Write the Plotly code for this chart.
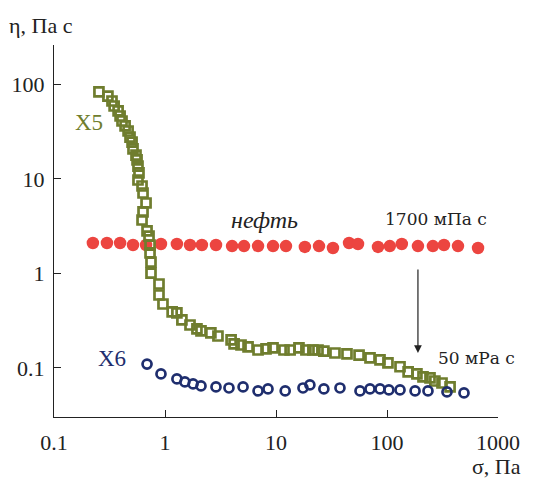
import math
import plotly.graph_objects as go

# ---- data (sigma, Pa ; eta, Pa s) ----
x5_sigma = [0.254, 0.306, 0.333, 0.348, 0.378, 0.394, 0.410, 0.437, 0.465, 0.484, 0.505, 0.515,
            0.548, 0.560, 0.571, 0.583, 0.571, 0.621, 0.634, 0.675, 0.634, 0.621, 0.689, 0.718,
            0.733, 0.733, 0.748, 0.748, 0.883, 0.883, 0.959, 1.16, 1.28, 1.42, 1.68, 1.94, 2.11,
            2.59, 3.00, 3.94, 4.19, 4.84, 5.60, 6.89, 8.13, 9.40, 11.8, 13.4, 16.1, 18.6, 21.5,
            23.9, 27.0, 34.0, 43.6, 56.0, 70.3, 86.5, 102, 131, 155, 186, 211, 244, 270, 313, 370]
x5_eta = [83.4, 75.5, 66.9, 59.2, 52.5, 46.4, 41.1, 36.4, 32.2, 27.8, 24.6, 20.8, 17.9, 15.9,
          13.7, 11.6, 9.75, 8.43, 7.11, 5.57, 4.48, 3.68, 2.82, 2.49, 2.00, 1.65, 1.32, 1.01,
          0.774, 0.592, 0.475, 0.392, 0.382, 0.322, 0.285, 0.259, 0.247, 0.235, 0.218, 0.198,
          0.180, 0.175, 0.167, 0.155, 0.159, 0.163, 0.155, 0.155, 0.163, 0.155, 0.155, 0.155,
          0.151, 0.144, 0.141, 0.137, 0.128, 0.122, 0.113, 0.103, 0.0907, 0.0865, 0.0804,
          0.0784, 0.0728, 0.0693, 0.0630]

oil_sigma = [0.224, 0.300, 0.394, 0.515, 0.675, 0.920, 1.28, 1.68, 2.15, 2.88, 4.02, 5.15, 6.89,
             9.40, 12.3, 18.2, 24.4, 32.6, 45.5, 54.8, 83.0, 106, 136, 190, 259, 326, 436, 661]
oil_eta = [2.10, 2.10, 2.10, 2.00, 2.00, 2.05, 2.05, 2.00, 2.00, 2.00, 1.95, 1.95, 1.95, 1.95,
           1.95, 1.91, 1.95, 1.86, 2.10, 2.05, 1.91, 1.95, 2.05, 1.95, 1.95, 2.00, 1.95, 1.86]

x6_sigma = [0.689, 0.920, 1.28, 1.51, 1.79, 2.11, 2.88, 3.77, 5.05, 6.89, 8.47, 12.1, 17.5, 20.2,
            27.0, 37.7, 57.1, 70.3, 86.5, 104, 131, 179, 234, 347, 494]
x6_eta = [0.110, 0.0865, 0.0765, 0.0711, 0.0677, 0.0645, 0.0630, 0.0614, 0.0630, 0.0571, 0.0600,
          0.0571, 0.0614, 0.0661, 0.0600, 0.0614, 0.0571, 0.0600, 0.0600, 0.0585, 0.0585, 0.0571,
          0.0571, 0.0557, 0.0544]

x_ticks = [0.1, 1, 10, 100, 1000]
x_ticktext = ["0.1", "1", "10", "100", "1000"]
y_ticks = [0.1, 1, 10, 100]
y_ticktext = ["0.1", "1", "10", "100"]

# arrow from 1700 mPa s level down to 50 mPa s level
arrow_sigma = 190
arrow_from = 1.14
arrow_to = 0.144

OLIVE = "#6f7d2e"
RED = "#ec4540"
NAVY = "#1f2e6e"
FONT = "'Liberation Serif', 'Times New Roman', 'DejaVu Serif', serif"
WIDE = "'DejaVu Serif', serif"

W, H = 546, 481
L, R, T, B = 54, 48, 45, 64
pw, ph = W - L - R, H - T - B


def px(xp, yp):
    return (xp - L) / pw, (H - B - yp) / ph


fig = go.Figure()
fig.add_trace(go.Scatter(x=oil_sigma, y=oil_eta, mode="markers",
                         marker=dict(symbol="circle", size=12.5, color=RED, line=dict(width=0))))
fig.add_trace(go.Scatter(x=x5_sigma, y=x5_eta, mode="markers",
                         marker=dict(symbol="square-open", size=9, color=OLIVE, line=dict(width=2.7))))
fig.add_trace(go.Scatter(x=x6_sigma, y=x6_eta, mode="markers",
                         marker=dict(symbol="circle-open", size=9, color=NAVY, line=dict(width=2.7))))

ann = []


def text(s, xp, yp, color="#222", size=21, xanchor="center", italic=False, family=FONT):
    x, y = px(xp, yp)
    ann.append(dict(x=x, y=y, xref="paper", yref="paper", text=s, showarrow=False,
                    xanchor=xanchor, yanchor="middle", borderpad=0,
                    font=dict(family=family, size=size, color=color,
                              style="italic" if italic else "normal")))


text("η, Па с", 8, 25, xanchor="left", size=22)
text("σ, Па", 522, 466, xanchor="right", size=22)
text("X5", 89, 122, color=OLIVE, size=23)
text("X6", 112, 358, color=NAVY, size=23)
text("нефть", 264, 220, italic=True, size=24)
text("1700 мПа с", 436, 219, size=17, family=WIDE)
text("50 мРа с", 437, 358, size=17, xanchor="left", family=WIDE)

ann.append(dict(x=math.log10(arrow_sigma), y=math.log10(arrow_to), xref="x", yref="y",
                ax=math.log10(arrow_sigma), ay=math.log10(arrow_from), axref="x", ayref="y",
                showarrow=True, arrowhead=2, arrowsize=1.3, arrowwidth=1.2, arrowcolor="#222",
                text=""))

fig.update_layout(
    width=W, height=H,
    margin=dict(l=L, r=R, t=T, b=B),
    paper_bgcolor="white", plot_bgcolor="white",
    showlegend=False,
    annotations=ann,
    font=dict(family=FONT, size=21, color="#222"),
    xaxis=dict(type="log", range=[-1, 3], tickvals=x_ticks, ticktext=x_ticktext,
               ticks="inside", ticklen=7, tickwidth=1.2, tickcolor="#222",
               showline=True, linecolor="#222", linewidth=1.2, showgrid=False, zeroline=False,
               ticklabelstandoff=5, tickfont=dict(family=FONT, size=22, color="#222")),
    yaxis=dict(type="log", range=[-1.519, 2.418], tickvals=y_ticks, ticktext=y_ticktext,
               ticks="inside", ticklen=7, tickwidth=1.2, tickcolor="#222",
               showline=True, linecolor="#222", linewidth=1.2, showgrid=False, zeroline=False,
               ticklabelstandoff=4, tickfont=dict(family=FONT, size=22, color="#222")),
)

fig.write_html("out.html", config={"displayModeBar": False},
               post_script="document.body.style.margin='0';document.body.style.padding='0';")
